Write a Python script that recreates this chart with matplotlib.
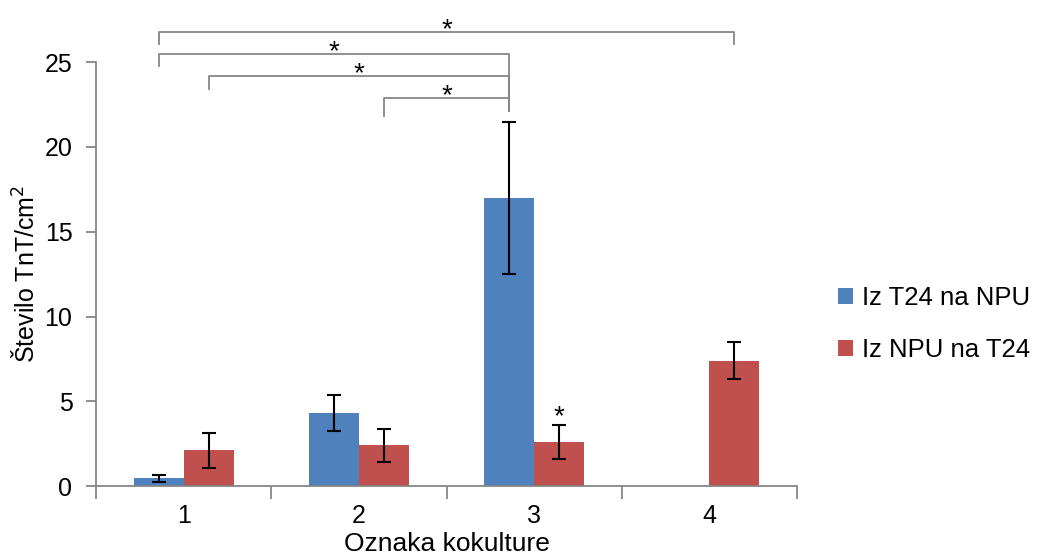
import matplotlib.pyplot as plt
import numpy as np

plt.rcParams['font.family'] = ['Liberation Sans', 'DejaVu Sans']

# Data
categories = ['1', '2', '3', '4']
t24_npu = [0.45, 4.3, 17.0, 0.0]
t24_npu_err = [0.2, 1.08, 4.5, 0.0]
npu_t24 = [2.1, 2.4, 2.6, 7.4]
npu_t24_err = [1.02, 0.97, 1.0, 1.1]

# brackets: (series_left, cat_left, series_right, cat_right, height, left_drop, right_drop)
brackets = [
    (0, 0, 1, 3, 26.8, 0.7, 0.7),
    (0, 0, 0, 2, 25.5, 0.75, 3.4),
    (1, 0, 0, 2, 24.2, 0.8, 2.1),
    (1, 1, 0, 2, 22.9, 1.1, 0.8),
]

blue = '#4f81bd'
red = '#c0504d'
grey = '#868686'

fig = plt.figure(figsize=(10.37, 5.6), dpi=100)
ax = fig.add_axes([0.0926, 0.132, 0.676, 0.757])

x = np.arange(len(categories))
w = 0.285
off = 0.142
ekw = dict(ecolor='black', elinewidth=1.5, capsize=5, capthick=1.5)

ax.bar(x - off, t24_npu, w, color=blue, label='Iz T24 na NPU')
ax.bar(x + off, npu_t24, w, color=red, label='Iz NPU na T24')
ax.errorbar(x[:3] - off, t24_npu[:3], yerr=t24_npu_err[:3], fmt='none', **ekw)
ax.errorbar(x + off, npu_t24, yerr=npu_t24_err, fmt='none', **ekw)

# significance star above red bar 3
ax.text(2 + off, npu_t24[2] + npu_t24_err[2] + 0.05, '*', ha='center', va='baseline', fontsize=20)

offs = [-off, off]
for sl, cl, sr, cr, h, dl, dr in brackets:
    xl = cl + offs[sl]
    xr = cr + offs[sr]
    ax.plot([xl, xl, xr, xr], [h - dl, h, h, h - dr], color=grey, lw=1.3, clip_on=False)
    ax.text((xl + xr) / 2, h - 0.3, '*', ha='center', va='baseline', fontsize=20, clip_on=False)

ax.set_xlim(-0.5, 3.5)
ax.set_ylim(0, 25)
ax.set_yticks([0, 5, 10, 15, 20, 25])
ax.set_xticks(x)
ax.set_xticklabels(categories)
ax.set_xticks(np.arange(-0.5, 4, 1), minor=True)
ax.tick_params(axis='x', which='major', length=0, pad=13, labelsize=18)
ax.tick_params(axis='x', which='minor', length=9, width=1.3, color=grey, direction='out')
ax.tick_params(axis='y', length=7, width=1.3, color=grey, direction='out', labelsize=18, pad=10)

for s in ['top', 'right']:
    ax.spines[s].set_visible(False)
for s in ['left', 'bottom']:
    ax.spines[s].set_color(grey)
    ax.spines[s].set_linewidth(1.3)

ax.set_xlabel('Oznaka kokulture', fontsize=19, labelpad=3)
ax.set_ylabel('Število TnT/cm$^2$', fontsize=18, labelpad=4)

ax.legend(loc='center left', bbox_to_anchor=(1.058, 0.382), frameon=False, fontsize=18.5,
          borderpad=0, borderaxespad=0,
          handlelength=0.6, handleheight=0.6, handletextpad=0.35, labelspacing=1.1)

fig.savefig('out.png', dpi=100)
